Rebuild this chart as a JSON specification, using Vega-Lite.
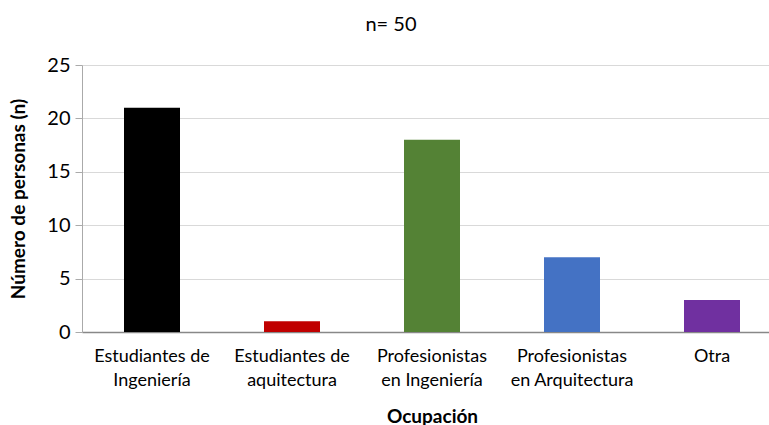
{
  "$schema": "https://vega.github.io/schema/vega-lite/v6.json",
  "width": 700,
  "height": 267,
  "autosize": {"type": "none"},
  "padding": {"left": 82, "top": 65, "right": 0, "bottom": 93},
  "background": "white",
  "title": {"text": "n= 50", "fontSize": 20, "font": "Lato", "fontWeight": "normal", "color": "#000000", "dx": -41, "offset": 20, "anchor": "middle"},
  "config": {"view": {"stroke": null}, "font": "Lato"},
  "data": {"values": [
    {"ocupacion": "Estudiantes de|Ingeniería", "n": 21, "color": "#000000"},
    {"ocupacion": "Estudiantes de|aquitectura", "n": 1, "color": "#C00000"},
    {"ocupacion": "Profesionistas|en Ingeniería", "n": 18, "color": "#548235"},
    {"ocupacion": "Profesionistas|en Arquitectura", "n": 7, "color": "#4472C4"},
    {"ocupacion": "Otra", "n": 3, "color": "#7030A0"}
  ]},
  "mark": {"type": "bar"},
  "encoding": {
    "x": {"field": "ocupacion", "type": "nominal", "sort": null,
      "scale": {"paddingInner": 0.6, "paddingOuter": 0.3},
      "axis": {"title": "Ocupación", "titleFontSize": 19, "titleFontWeight": "bold", "titleColor": "#000000", "titlePadding": 18,
        "labelExpr": "split(datum.label, '|')", "labelAngle": 0, "labelFontSize": 18, "labelColor": "#000000", "labelLineHeight": 24, "labelPadding": 15,
        "ticks": false, "domainColor": "#888888", "domainWidth": 1.5}},
    "y": {"field": "n", "type": "quantitative",
      "scale": {"domain": [0, 25]},
      "axis": {"title": "Número de personas (n)", "titleFontSize": 19, "titleFontWeight": "bold", "titleColor": "#000000", "titlePadding": 18,
        "values": [0, 5, 10, 15, 20, 25], "labelFontSize": 20, "labelColor": "#000000", "labelPadding": 5,
        "tickSize": 7, "tickColor": "#aaaaaa", "domainColor": "#aaaaaa", "gridColor": "#d9d9d9", "grid": true}},
    "color": {"field": "color", "type": "nominal", "scale": null, "legend": null}
  }
}
